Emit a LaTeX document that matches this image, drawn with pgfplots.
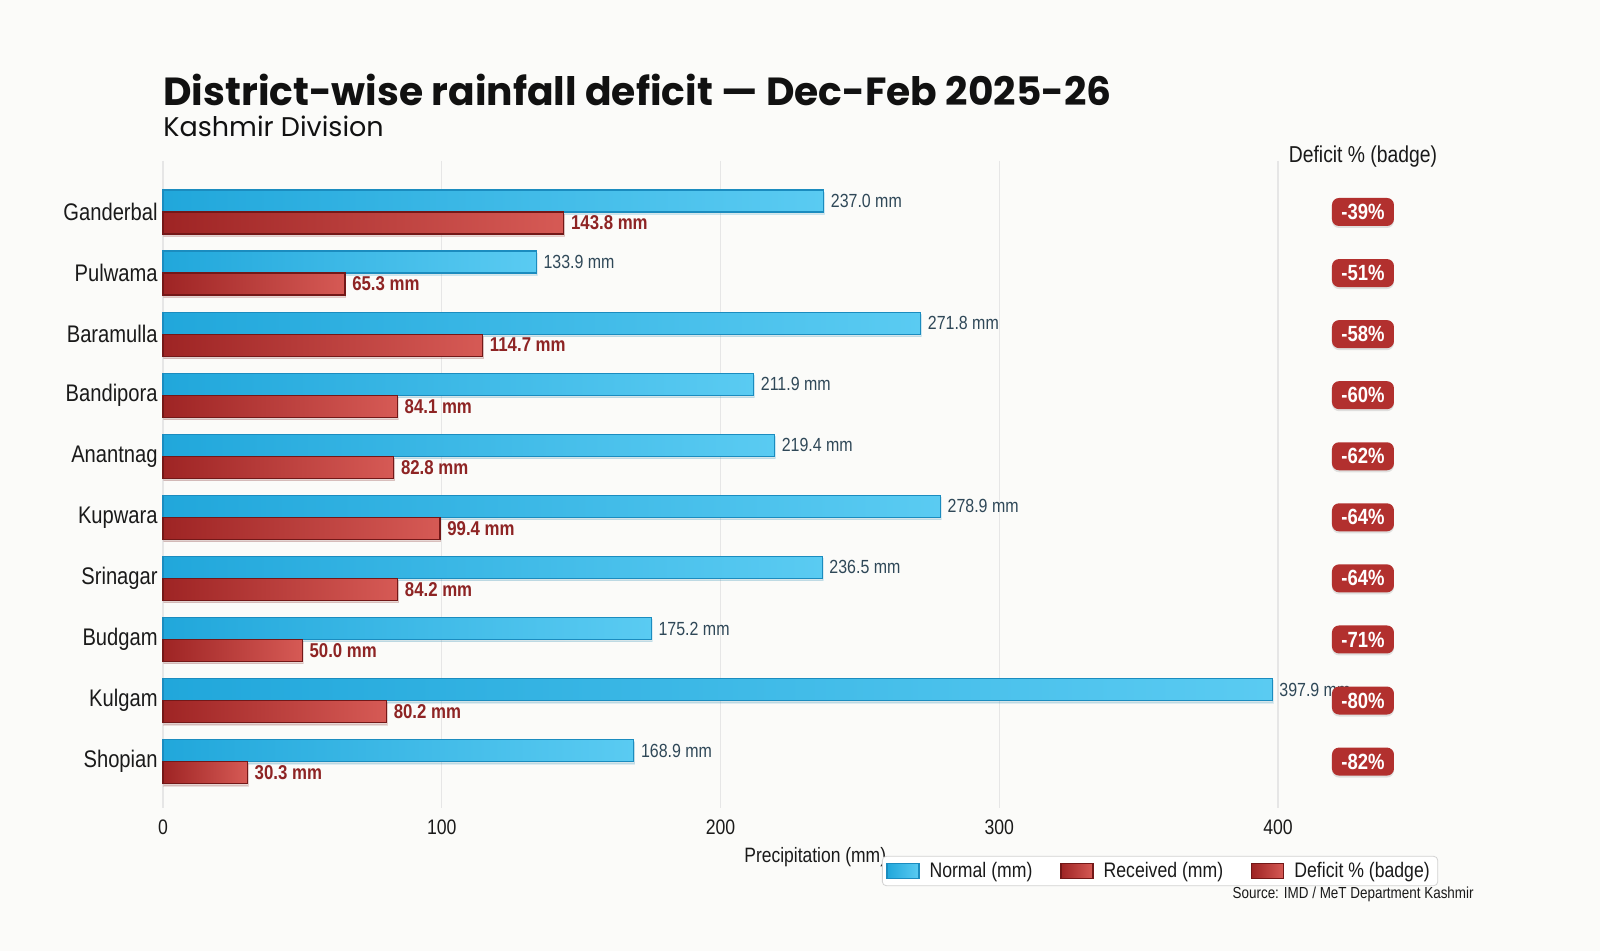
\documentclass[border=0pt]{standalone}
\usepackage{pgfplots}
\pgfplotsset{compat=1.18}
\usepackage{pgfplotstable}
\usepackage{fontspec}
\usetikzlibrary{shadows}
\setmainfont{Liberation Sans}
\newfontfamily\cond{Liberation Sans}[FakeStretch=0.84]
\newfontfamily\poppins{Poppins}

\definecolor{bgcol}{HTML}{FBFBF9}
\definecolor{titlecol}{HTML}{111111}
\definecolor{normL}{HTML}{21A7DB}
\definecolor{normR}{HTML}{5ACBF2}
\definecolor{normB}{HTML}{1B8CBF}
\definecolor{recL}{HTML}{9E2424}
\definecolor{recR}{HTML}{D65A55}
\definecolor{recB}{HTML}{731818}
\definecolor{normtxt}{HTML}{2F4858}
\definecolor{rectxt}{HTML}{8E2424}
\definecolor{badgecol}{HTML}{B2302E}
\definecolor{gridcol}{HTML}{E6E6E6}
\definecolor{ticktxt}{HTML}{1A1A1A}
\definecolor{legborder}{HTML}{D2D2D2}

% Dec-Feb 2025-26 precipitation by district (mm) and deficit (%)
\pgfplotstableread{
idx name      normal received deficit
0   Ganderbal 237.0  143.8    -39
1   Pulwama   133.9  65.3     -51
2   Baramulla 271.8  114.7    -58
3   Bandipora 211.9  84.1     -60
4   Anantnag  219.4  82.8     -62
5   Kupwara   278.9  99.4     -64
6   Srinagar  236.5  84.2     -64
7   Budgam    175.2  50.0     -71
8   Kulgam    397.9  80.2     -80
9   Shopian   168.9  30.3     -82
}\rain

\pgfplotsset{
  barshadow/.style={drop shadow={opacity=0.13, shadow xshift=0.4pt, shadow yshift=-1.2pt}},
  normalbar/.style={xbar, bar width=0.36, left color=normL, right color=normR,
                    draw=normB, line width=0.6pt},
  receivedbar/.style={xbar, bar width=0.36, left color=recL, right color=recR,
                      draw=recB, line width=0.6pt},
}

\begin{document}
\begin{tikzpicture}
\fill[bgcol] (0pt,0pt) rectangle (800pt,475.5pt);
\path[use as bounding box] (0pt,0pt) rectangle (800pt,475.5pt);

\node[anchor=base west, inner sep=0pt, text=titlecol,
      font=\poppins\bfseries\fontsize{19.6}{24}\selectfont]
  at (81.5pt,422.5pt) {District-wise rainfall deficit — Dec-Feb 2025-26};
\node[anchor=base west, inner sep=0pt, text=titlecol,
      font=\poppins\fontsize{13.5}{16}\selectfont]
  at (81.5pt,407pt) {Kashmir Division};
\node[anchor=center, inner sep=0pt, text=ticktxt,
      font=\cond\fontsize{11.5}{14}\selectfont]
  at (681.5pt,397pt) {Deficit \% (badge)};

\begin{axis}[
  at={(81.5pt,71.5pt)}, anchor=south west,
  scale only axis, width=652.25pt, height=323.5pt,
  xmin=0, xmax=468, ymin=-0.835, ymax=9.76, y dir=reverse,
  clip=false,
  /pgf/number format/assume math mode=true,
  axis line style={draw=none},
  major tick length=0pt,
  xmajorgrids, grid style={color=gridcol, line width=0.7pt},
  xtick={0,100,200,300,400},
  ytick={0,...,9},
  yticklabels from table={\rain}{name},
  xticklabel style={font=\cond\fontsize{10.5}{12}\selectfont, text=ticktxt,
                    anchor=center, yshift=-9.5pt},
  yticklabel style={font=\cond\fontsize{12}{14}\selectfont, text=ticktxt,
                    anchor=east, inner sep=0pt, xshift=-2.5pt},
  xlabel={Precipitation (mm)},
  xlabel style={at={(axis description cs:0.5,-0.0755)}, anchor=center,
                font=\cond\fontsize{10.4}{12}\selectfont, text=ticktxt},
  legend columns=3,
  legend cell align=left,
  legend style={at={(axis description cs:0.7643,-0.0974)}, anchor=center,
                draw=legborder, fill=white, rounded corners=2pt,
                font=\cond\fontsize{10.5}{12}\selectfont, text=ticktxt,
                inner xsep=2pt, inner ysep=1pt,
                nodes={inner ysep=1.8pt},
                /tikz/every odd column/.append style={column sep=3pt},
                /tikz/every even column/.append style={column sep=12pt}},
  legend image code/.code={\draw[sharp corners,#1] (0pt,-3.6pt) rectangle (16pt,3.6pt);},
]

% normal precipitation, one path per district so each bar gets its own shading
\pgfplotsinvokeforeach{0,...,9}{
  \addplot[forget plot, normalbar, barshadow,
           restrict expr to domain={\coordindex}{#1:#1},
           point meta=x,
           nodes near coords={\pgfmathprintnumber[fixed,fixed zerofill,precision=1]{\pgfplotspointmeta}~mm},
           nodes near coords style={font=\cond\fontsize{9.5}{11}\selectfont,
                                    text=normtxt, anchor=west}]
    table[x=normal, y expr=\thisrow{idx}-0.18] {\rain};
}

% received precipitation
\pgfplotsinvokeforeach{0,...,9}{
  \addplot[forget plot, receivedbar, barshadow,
           restrict expr to domain={\coordindex}{#1:#1},
           point meta=x,
           nodes near coords={\pgfmathprintnumber[fixed,fixed zerofill,precision=1]{\pgfplotspointmeta}~mm},
           nodes near coords style={font=\cond\bfseries\fontsize{10}{12}\selectfont,
                                    text=rectxt, anchor=west}]
    table[x=received, y expr=\thisrow{idx}+0.18] {\rain};
}

% deficit badges
\addplot[forget plot, draw=none, mark=none,
         point meta=explicit symbolic,
         nodes near coords={\pgfplotspointmeta\%},
         nodes near coords style={anchor=center, fill=badgecol, text=white,
            rounded corners=3.5pt, inner sep=0pt,
            minimum width=31pt, minimum height=14pt,
            font=\cond\bfseries\fontsize{11}{13}\selectfont,
            drop shadow={opacity=0.22, shadow xshift=0pt, shadow yshift=-1pt}}]
  table[x expr=430.5, y=idx, meta=deficit] {\rain};

\addlegendimage{left color=normL, right color=normR, draw=normB, line width=0.6pt}
\addlegendentry{Normal (mm)}
\addlegendimage{left color=recL, right color=recR, draw=recB, line width=0.6pt}
\addlegendentry{Received (mm)}
\addlegendimage{left color=recL, right color=recR, draw=recB, line width=0.6pt}
\addlegendentry{Deficit \% (badge)}

\node[anchor=east, inner sep=0pt, text=ticktxt,
      font=\cond\fontsize{8}{10}\selectfont]
  at (axis description cs:1.005,-0.133) {Source: IMD / MeT Department Kashmir};
\end{axis}
\end{tikzpicture}
\end{document}
